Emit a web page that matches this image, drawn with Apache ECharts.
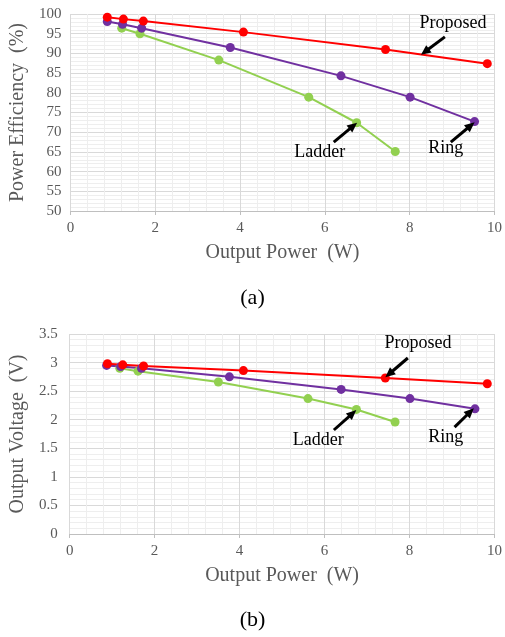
<!DOCTYPE html>
<html>
<head>
<meta charset="utf-8">
<script src="https://cdn.jsdelivr.net/npm/echarts@6/dist/echarts.min.js"></script>
<style>
  html, body { margin: 0; padding: 0; background: #fff; }
  #main { width: 505px; height: 637px; }
</style>
</head>
<body>
<div id="main"></div>
<script>
// (a) power efficiency vs output power
var propX = [0.87, 1.25, 1.72, 4.08, 7.43, 9.83]
var propEff = [99.2, 98.7, 98.2, 95.4, 91.0, 87.4]
var ringX = [0.87, 1.23, 1.68, 3.77, 6.38, 8.01, 9.53]
var ringEff = [98.1, 97.4, 96.4, 91.5, 84.3, 78.9, 72.7]
var ladderX = [1.21, 1.64, 3.50, 5.62, 6.75, 7.66]
var ladderEff = [96.4, 95.0, 88.3, 78.9, 72.4, 65.1]

// (b) output voltage vs output power
var propXb = [0.89, 1.25, 1.74, 4.09, 7.43, 9.83]
var propVolt = [2.98, 2.96, 2.94, 2.86, 2.73, 2.63]
var ringXb = [0.87, 1.20, 1.69, 3.76, 6.39, 8.01, 9.54]
var ringVolt = [2.95, 2.93, 2.90, 2.75, 2.53, 2.37, 2.19]
var ladderXb = [1.18, 1.61, 3.50, 5.61, 6.75, 7.66]
var ladderVolt = [2.90, 2.85, 2.66, 2.37, 2.18, 1.96]

var serif = 'Liberation Serif'
var tickColor = '#595959'

function pairs(xs, ys) {
  return xs.map(function (x, i) { return [x, ys[i]] })
}

// annotation: text position + arrow tail/head, in data units
function note(text, tx, ty, ax1, ay1, ax2, ay2) {
  return { text: text, at: [tx, ty], from: [ax1, ay1], to: [ax2, ay2] }
}
var notesA = {
  prop: note('Proposed', 9.02, 97.7, 8.83, 94.2, 8.36, 90.4),
  ladder: note('Ladder', 5.88, 65.0, 6.21, 67.5, 6.67, 71.6),
  ring: note('Ring', 8.85, 65.8, 8.97, 67.5, 9.44, 71.7)
}
var notesB = {
  prop: note('Proposed', 8.2, 3.34, 7.96, 3.08, 7.52, 2.80),
  ladder: note('Ladder', 5.85, 1.64, 6.22, 1.82, 6.66, 2.11),
  ring: note('Ring', 8.85, 1.70, 9.06, 1.87, 9.43, 2.14)
}

function makeSeries(name, data, color, xi, n) {
  return {
    name: name,
    type: 'line',
    xAxisIndex: xi,
    yAxisIndex: xi,
    data: data,
    symbol: 'circle',
    symbolSize: 9,
    lineStyle: { color: color, width: 2 },
    itemStyle: { color: color },
    animation: false,
    markPoint: {
      silent: true,
      symbol: 'circle',
      symbolSize: 1,
      itemStyle: { color: 'rgba(0,0,0,0)' },
      label: {
        show: true,
        position: 'inside',
        color: '#000',
        fontFamily: serif,
        fontSize: 18,
        formatter: n.text
      },
      data: [{ coord: n.at }]
    },
    markLine: {
      silent: true,
      label: { show: false },
      lineStyle: { color: '#000', width: 3, type: 'solid' },
      itemStyle: { color: '#000' },
      data: [[
        { coord: n.from, symbol: 'none' },
        { coord: n.to, symbol: 'triangle', symbolSize: [9, 10] }
      ]]
    }
  }
}

function xAxis(gi) {
  return {
    type: 'value',
    gridIndex: gi,
    min: 0,
    max: 10,
    interval: 2,
    name: 'Output Power  (W)',
    nameLocation: 'middle',
    nameGap: 32,
    nameTextStyle: { fontFamily: serif, fontSize: 20, color: tickColor },
    axisLine: { show: true, lineStyle: { color: '#bfbfbf' } },
    axisTick: { show: true, length: 4, lineStyle: { color: '#bfbfbf' } },
    axisLabel: { fontFamily: serif, fontSize: 15, color: tickColor, margin: 10 },
    splitLine: { show: true, lineStyle: { color: '#d9d9d9' } },
    minorTick: { show: false, splitNumber: 5 },
    minorSplitLine: { show: true, lineStyle: { color: '#eeeeee' } }
  }
}

var option = {
  backgroundColor: '#fff',
  animation: false,
  grid: [
    { left: 70, right: 8, top: 14, height: 197 },
    { left: 67, right: 8, top: 334, height: 200 }
  ],
  xAxis: [xAxis(0), xAxis(1)],
  yAxis: [
    {
      type: 'value',
      gridIndex: 0,
      min: 50,
      max: 100,
      interval: 5,
      name: 'Power Efficiency  (%)',
      nameLocation: 'middle',
      nameGap: 42,
      nameTextStyle: { fontFamily: serif, fontSize: 20, color: tickColor },
      axisLine: { show: false },
      axisTick: { show: false },
      axisLabel: { fontFamily: serif, fontSize: 15, color: tickColor, margin: 9 },
      splitLine: { show: true, lineStyle: { color: '#d9d9d9' } },
      minorTick: { show: false, splitNumber: 5 },
      minorSplitLine: { show: true, lineStyle: { color: '#eeeeee' } }
    },
    {
      type: 'value',
      gridIndex: 1,
      min: 0,
      max: 3.5,
      interval: 0.5,
      name: 'Output Voltage  (V)',
      nameLocation: 'middle',
      nameGap: 40,
      nameTextStyle: { fontFamily: serif, fontSize: 20, color: tickColor },
      axisLine: { show: false },
      axisTick: { show: false },
      axisLabel: { fontFamily: serif, fontSize: 15, color: tickColor, margin: 12 },
      splitLine: { show: true, lineStyle: { color: '#d9d9d9' } },
      minorTick: { show: false, splitNumber: 5 },
      minorSplitLine: { show: true, lineStyle: { color: '#eeeeee' } }
    }
  ],
  graphic: [
    { type: 'text', left: 'center', top: 287, style: { text: '(a)', fontFamily: serif, fontSize: 22, fill: '#000' } },
    { type: 'text', left: 'center', top: 609, style: { text: '(b)', fontFamily: serif, fontSize: 22, fill: '#000' } }
  ],
  series: [
    makeSeries('Ladder', pairs(ladderX, ladderEff), '#92d050', 0, notesA.ladder),
    makeSeries('Ring', pairs(ringX, ringEff), '#7030a0', 0, notesA.ring),
    makeSeries('Proposed', pairs(propX, propEff), '#ff0000', 0, notesA.prop),
    makeSeries('Ladder', pairs(ladderXb, ladderVolt), '#92d050', 1, notesB.ladder),
    makeSeries('Ring', pairs(ringXb, ringVolt), '#7030a0', 1, notesB.ring),
    makeSeries('Proposed', pairs(propXb, propVolt), '#ff0000', 1, notesB.prop)
  ]
}

var chart = echarts.init(document.getElementById('main'))
chart.setOption(option)
</script>
</body>
</html>
